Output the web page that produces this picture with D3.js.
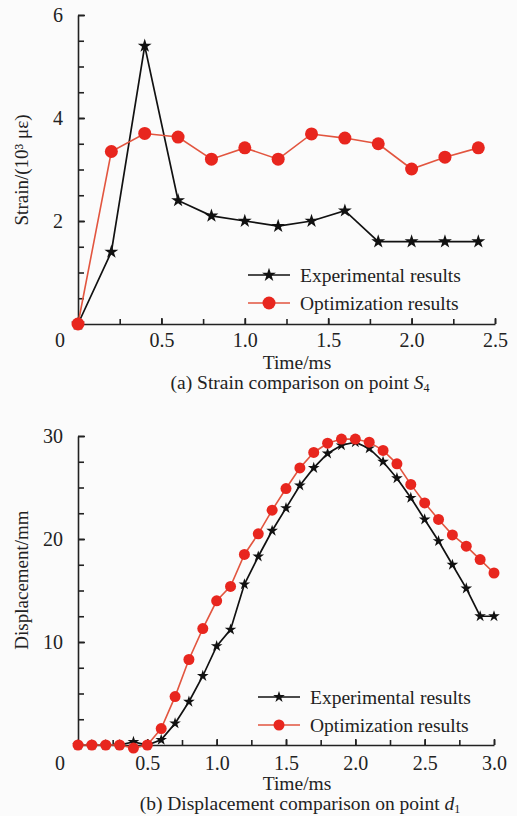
<!DOCTYPE html>
<html>
<head>
<meta charset="utf-8">
<script src="https://cdn.jsdelivr.net/npm/d3@7"></script>
<style>
  body { margin: 0; background: #fbfbfb; }
  svg { display: block; }
  svg text { font-family: "Liberation Serif", "Times New Roman", serif !important; }
</style>
</head>
<body>
<div id="chart"></div>
<script>
// (a) strain on point S4
const strainTime = [0, 0.2, 0.4, 0.6, 0.8, 1.0, 1.2, 1.4, 1.6, 1.8, 2.0, 2.2, 2.4];
const strainExp  = [0, 1.4, 5.4, 2.4, 2.1, 2.0, 1.9, 2.0, 2.2, 1.6, 1.6, 1.6, 1.6];
const strainOpt  = [0, 3.35, 3.7, 3.63, 3.2, 3.42, 3.2, 3.69, 3.61, 3.5, 3.01, 3.24, 3.42];
const strainXTicks = [0.5, 1.0, 1.5, 2.0, 2.5];
const strainYTicks = [2, 4, 6];

// (b) displacement on point d1
const dispTime = [0, 0.1, 0.2, 0.3, 0.4, 0.5, 0.6, 0.7, 0.8, 0.9, 1.0, 1.1, 1.2, 1.3, 1.4, 1.5,
                  1.6, 1.7, 1.8, 1.9, 2.0, 2.1, 2.2, 2.3, 2.4, 2.5, 2.6, 2.7, 2.8, 2.9, 3.0];
const dispExp = [0, 0, 0, 0, 0.3, 0, 0.5, 2.1, 4.2, 6.7, 9.6, 11.2, 15.6, 18.3, 20.8, 23.0,
                 25.2, 26.9, 28.3, 29.1, 29.4, 28.8, 27.5, 25.9, 24.0, 21.9, 19.8, 17.5, 15.2, 12.5, 12.5];
const dispOpt = [0, 0, 0, 0, -0.3, 0, 1.6, 4.7, 8.3, 11.3, 14.0, 15.4, 18.5, 20.5, 22.8, 24.9,
                 26.9, 28.4, 29.3, 29.7, 29.7, 29.4, 28.6, 27.3, 25.3, 23.5, 21.9, 20.4, 19.3, 18.0, 16.7];
const dispXTicks = [0.5, 1.0, 1.5, 2.0, 2.5, 3.0];
const dispYTicks = [10, 20, 30];

const seriesNames = ["Experimental results", "Optimization results"];

const W = 517, H = 816;
const svg = d3.select("#chart").append("svg").attr("width", W).attr("height", H);

function panel(o) {
  const x = d3.scaleLinear().domain([0, o.xMax]).range([78, o.xRight]);
  const y = d3.scaleLinear().domain([0, o.yMax]).range([o.bottom, o.top]);
  const g = svg.append("g");

  // minor ticks
  g.append("g").attr("transform", `translate(0,${o.bottom})`)
    .call(d3.axisBottom(x).tickValues(d3.range(0.25, o.xMax + 0.01, 0.25)).tickSize(-5).tickFormat(""))
    .call(a => a.select(".domain").remove());
  g.append("g").attr("transform", "translate(78,0)")
    .call(d3.axisLeft(y).tickValues(d3.range(o.yMinor, o.yMax + 0.01, o.yMinor)).tickSize(-6).tickFormat(""))
    .call(a => a.select(".domain").remove());

  // major axes
  const xa = g.append("g").attr("transform", `translate(0,${o.bottom})`)
    .call(d3.axisBottom(x).tickValues(o.xTicks).tickSize(-6).tickPadding(o.xPad)
      .tickFormat(d3.format(".1f")).tickSizeOuter(0));
  const ya = g.append("g").attr("transform", "translate(78,0)")
    .call(d3.axisLeft(y).tickValues(o.yTicks).tickSize(-7).tickPadding(15)
      .tickFormat(d3.format("d")).tickSizeOuter(0));
  [xa, ya].forEach(a => {
    a.selectAll("text").attr("font-size", 20).attr("fill", "#222");
  });
  g.selectAll("line, .domain").attr("stroke", "#222").attr("stroke-width", 1.6);

  g.append("text").attr("x", 60).attr("y", o.bottom + o.xPad + 14).attr("text-anchor", "middle")
    .attr("font-size", 20).attr("fill", "#222").text("0");

  // y title
  g.append("text").attr("transform", `translate(28,${o.yTitleY}) rotate(-90)`)
    .attr("text-anchor", "middle").attr("font-size", 19).attr("fill", "#222")
    .text(o.yTitle);

  g.append("text").attr("x", 297).attr("y", o.bottom + 45).attr("text-anchor", "middle")
    .attr("font-size", 19.5).attr("fill", "#222").text("Time/ms");

  const cap = g.append("text").attr("x", 300).attr("y", o.bottom + 65).attr("text-anchor", "middle")
    .attr("font-size", 19.5).attr("fill", "#222");
  cap.append("tspan").text(o.caption);
  cap.append("tspan").attr("font-style", "italic").text(o.capVar);
  cap.append("tspan").attr("font-size", 12).attr("dy", 3).text(o.capSub);

  const line = d3.line().x(d => x(d[0])).y(d => y(d[1]));
  const exp = o.t.map((t, i) => [t, o.exp[i]]);
  const opt = o.t.map((t, i) => [t, o.opt[i]]);
  const star = d3.symbol().type(d3.symbolStar).size(o.starSize);

  g.append("path").datum(exp).attr("d", line).attr("fill", "none")
    .attr("stroke", "#111").attr("stroke-width", 1.7);
  g.selectAll(".st").data(exp).enter().append("path")
    .attr("transform", d => `translate(${x(d[0])},${y(d[1])})`)
    .attr("d", star).attr("fill", "#111");

  g.append("path").datum(opt).attr("d", line).attr("fill", "none")
    .attr("stroke", "#e2553f").attr("stroke-width", 1.6);
  g.selectAll(".ci").data(opt).enter().append("circle")
    .attr("cx", d => x(d[0])).attr("cy", d => y(d[1])).attr("r", o.r)
    .attr("fill", "#e8261e");

  // legend
  const lg = g.append("g");
  seriesNames.forEach((name, i) => {
    const ly = o.legY + i * 28;
    lg.append("line").attr("x1", o.legX).attr("x2", o.legX + 42).attr("y1", ly).attr("y2", ly)
      .attr("stroke", i ? "#e2553f" : "#111").attr("stroke-width", 1.7);
    if (i) lg.append("circle").attr("cx", o.legX + 21).attr("cy", ly).attr("r", o.r).attr("fill", "#e8261e");
    else lg.append("path").attr("transform", `translate(${o.legX + 21},${ly})`).attr("d", star).attr("fill", "#111");
    lg.append("text").attr("x", o.legX + 52).attr("y", ly + 7).attr("font-size", 19.5)
      .attr("fill", "#222").text(name);
  });
}

panel({
  t: strainTime, exp: strainExp, opt: strainOpt,
  xMax: 2.5, xRight: 495, yMax: 6, top: 15, bottom: 324, yMinor: 0.5, xPad: 9,
  xTicks: strainXTicks, yTicks: strainYTicks,
  yTitle: "Strain/(10\u00b3 \u03bc\u03b5)", yTitleY: 170,
  caption: "(a) Strain comparison on point ", capVar: "S", capSub: "4",
  starSize: 60, r: 6.5, legX: 248, legY: 275
});

panel({
  t: dispTime, exp: dispExp, opt: dispOpt,
  xMax: 3.0, xRight: 494, yMax: 30, top: 436, bottom: 745, yMinor: 2.5, xPad: 11,
  xTicks: dispXTicks, yTicks: dispYTicks,
  yTitle: "Displacement/mm", yTitleY: 580,
  caption: "(b) Displacement comparison on point ", capVar: "d", capSub: "1",
  starSize: 42, r: 5.5, legX: 258, legY: 697
});
</script>
</body>
</html>
